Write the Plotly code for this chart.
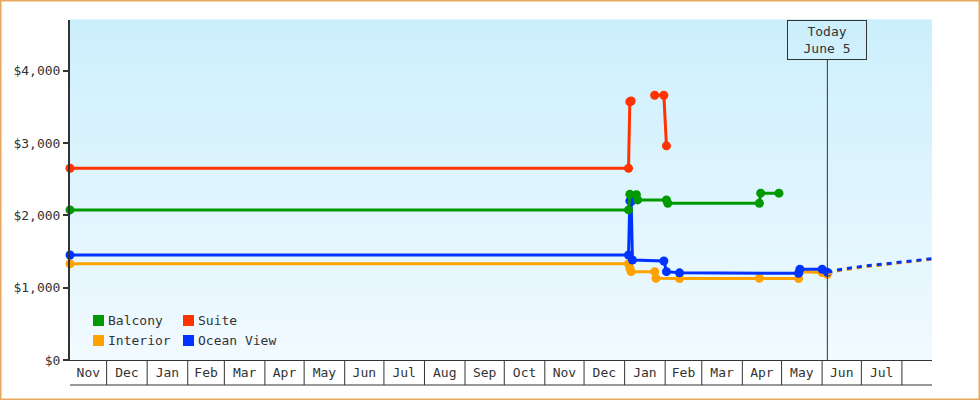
import plotly.graph_objects as go
import pandas as pd

# price change points per cabin type
balcony_dates = ["2021-11-03", "2023-01-04", "2023-01-05", "2023-01-10", "2023-01-11",
                 "2023-02-02", "2023-02-03", "2023-04-14", "2023-04-15", "2023-04-29"]
balcony_prices = [2075, 2075, 2290, 2285, 2213, 2213, 2167, 2167, 2306, 2306]

suite_dates = ["2021-11-03", "2023-01-04", "2023-01-05", "2023-01-06", None,
               "2023-01-24", "2023-01-31", "2023-02-02"]
suite_prices = [2650, 2650, 3570, 3580, None, 3660, 3660, 2960]

interior_dates = ["2021-11-03", "2023-01-04", "2023-01-05", "2023-01-06", "2023-01-24",
                  "2023-01-25", "2023-02-12", "2023-04-14", "2023-05-14", "2023-05-15",
                  "2023-06-01", "2023-06-05"]
interior_prices = [1330, 1330, 1268, 1221, 1221, 1130, 1125, 1130, 1125, 1221, 1210, 1185]

ocean_dates = ["2021-11-03", "2023-01-04", "2023-01-05", "2023-01-06", "2023-01-07",
               "2023-01-31", "2023-02-02", "2023-02-12", "2023-05-14", "2023-05-15",
               "2023-06-01", "2023-06-05"]
ocean_prices = [1452, 1452, 2200, 2190, 1383, 1369, 1221, 1205, 1199, 1254, 1254, 1213]

# forecast after today (dotted)
interior_fc_dates = ["2023-06-05", "2023-06-13", "2023-07-01", "2023-08-01", "2023-08-24"]
interior_fc_prices = [1185, 1232, 1283, 1350, 1395]
ocean_fc_dates = ["2023-06-05", "2023-06-13", "2023-07-01", "2023-08-01", "2023-08-24"]
ocean_fc_prices = [1213, 1245, 1293, 1355, 1400]

month_labels = ["Nov", "Dec", "Jan", "Feb", "Mar", "Apr", "May", "Jun", "Jul", "Aug", "Sep",
                "Oct", "Nov", "Dec", "Jan", "Feb", "Mar", "Apr", "May", "Jun", "Jul"]
price_ticks = [0, 1000, 2000, 3000, 4000]
price_labels = ["$0", "$1,000", "$2,000", "$3,000", "$4,000"]

x_start, x_end = "2021-11-03", "2023-08-24"
today = "2023-06-05"

colors = {"Balcony": "#009900", "Suite": "#ff3300", "Interior": "#ffa200", "Ocean View": "#0033ff"}
FONT = "DejaVu Sans Mono"
DARK = "#333333"

# page geometry
W, H = 980, 400
L, R, T, B = 70, 48, 20, 40
pw, ph = W - L - R, H - T - B


def px(x):
    return (x - L) / pw


def py(y):
    return (H - B - y) / ph


# month boxes under the axis
month_starts = pd.date_range("2021-11-01", "2023-08-01", freq="MS")
lo, hi = pd.Timestamp(x_start), pd.Timestamp(x_end)
tick_mid = []
for i in range(len(month_labels)):
    a = max(month_starts[i], lo)
    b = min(month_starts[i + 1], hi)
    tick_mid.append(a + (b - a) / 2)

fig = go.Figure()

series = [
    ("Interior", interior_dates, interior_prices),
    ("Ocean View", ocean_dates, ocean_prices),
    ("Balcony", balcony_dates, balcony_prices),
    ("Suite", suite_dates, suite_prices),
]
for name, xs, ys in series:
    fig.add_trace(go.Scatter(x=xs, y=ys, name=name, mode="lines+markers",
                             line=dict(color=colors[name], width=3),
                             marker=dict(color=colors[name], size=9),
                             connectgaps=False, cliponaxis=False, showlegend=False))

for name, xs, ys in [("Interior", interior_fc_dates, interior_fc_prices),
                     ("Ocean View", ocean_fc_dates, ocean_fc_prices)]:
    fig.add_trace(go.Scatter(x=xs, y=ys, mode="lines", showlegend=False,
                             line=dict(color=colors[name], width=3, dash="5px,5px")))

shapes = []
# background gradient
n = 40
top_c, bot_c = (204, 239, 252), (241, 250, 255)
for i in range(n):
    t = (i + 0.5) / n
    c = tuple(round(bot_c[k] + (top_c[k] - bot_c[k]) * t) for k in range(3))
    shapes.append(dict(type="rect", xref="paper", yref="paper", x0=0, x1=1,
                       y0=i / n, y1=(i + 1) / n + 0.002, layer="below",
                       line=dict(width=0), fillcolor="rgb(%d,%d,%d)" % c))
# outer orange frame
shapes.append(dict(type="rect", xref="paper", yref="paper", x0=px(0.75), x1=px(W - 0.75),
                   y0=py(H - 0.75), y1=py(0.75), line=dict(color="#e8a860", width=1.5)))
# month separators and bottom rule
for d in month_starts[1:]:
    shapes.append(dict(type="line", xref="x", yref="paper", x0=d, x1=d, y0=0, y1=py(385),
                       line=dict(color=DARK, width=1)))
shapes.append(dict(type="line", xref="paper", yref="paper", x0=0, x1=1, y0=py(385), y1=py(385),
                   line=dict(color=DARK, width=1)))
# today marker line
shapes.append(dict(type="line", xref="x", yref="paper", x0=today, x1=today, y0=0, y1=py(60),
                   line=dict(color=DARK, width=1)))

annotations = [dict(x=today, xref="x", y=1, yref="paper", yanchor="top", showarrow=False,
                    text="Today<br>June 5", width=76, height=36, borderpad=1,
                    bordercolor=DARK, borderwidth=1, font=dict(family=FONT, size=13, color=DARK))]

# legend drawn by hand (two columns, square swatches)
legend_pos = [("Balcony", 93, 315), ("Suite", 183, 315), ("Interior", 93, 335), ("Ocean View", 183, 335)]
for name, lx, ly in legend_pos:
    shapes.append(dict(type="rect", xref="paper", yref="paper", x0=px(lx), x1=px(lx + 11),
                       y0=py(ly + 11), y1=py(ly), line=dict(width=0), fillcolor=colors[name]))
    annotations.append(dict(x=px(lx + 13), xref="paper", y=py(ly + 5.5), yref="paper",
                            xanchor="left", yanchor="middle", showarrow=False, text=name,
                            font=dict(family=FONT, size=13, color=DARK)))

fig.update_layout(
    width=W, height=H,
    margin=dict(l=L, r=R, t=T, b=B),
    paper_bgcolor="white",
    plot_bgcolor="rgb(241,250,255)",
    font=dict(family=FONT, size=13, color=DARK),
    hovermode=False,
    shapes=shapes,
    annotations=annotations,
    xaxis=dict(type="date", range=[x_start, x_end], tickvals=tick_mid, ticktext=month_labels,
               ticks="", showline=True, linecolor=DARK, linewidth=1, showgrid=False,
               zeroline=False, tickangle=0, tickfont=dict(family=FONT, size=13, color=DARK)),
    yaxis=dict(range=[0, 4700], tickvals=price_ticks, ticktext=price_labels,
               ticks="outside", ticklen=5, tickwidth=2, tickcolor=DARK,
               showline=True, linecolor=DARK, linewidth=2, showgrid=False, zeroline=False,
               tickfont=dict(family=FONT, size=13, color=DARK)),
)

# drop the browser's default 8px body margin so the frame sits on the page edge
fig.write_html("out.html", config={"displayModeBar": False},
               post_script="document.body.style.margin='0';")
